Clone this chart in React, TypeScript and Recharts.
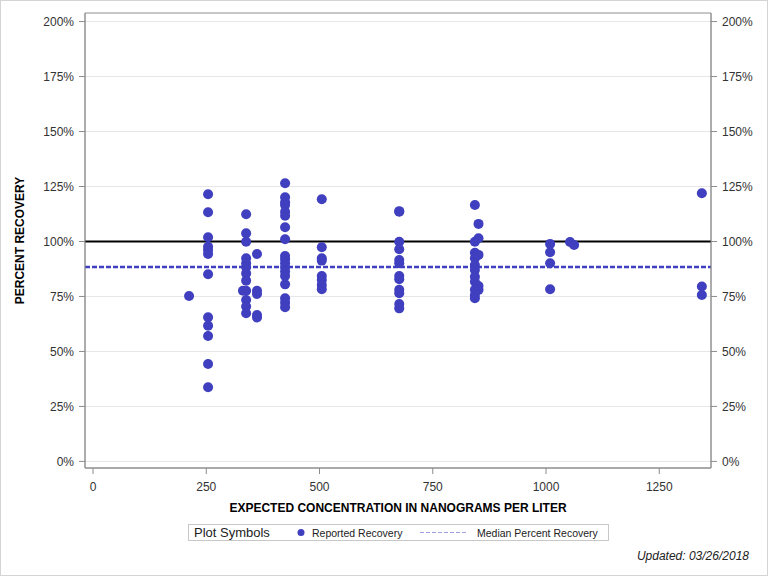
import React from "react";
import {
  CartesianGrid,
  Label,
  ReferenceArea,
  ReferenceLine,
  Scatter,
  ScatterChart,
  XAxis,
  YAxis,
} from "recharts";

// expected concentration (ng/L) for each column of points
const concentrations = [212, 254, 331, 338, 362, 424, 505, 676, 843, 851, 1009, 1053, 1062, 1344];

// reported percent recovery, one list per concentration above
const recoveries = [
  [75.2],
  [121.5, 113.3, 101.9, 97.6, 96.1, 94.3, 85.1, 65.5, 61.7, 57.0, 44.3, 33.7],
  [77.6],
  [112.4, 103.7, 99.9, 92.4, 90.1, 88.3, 85.5, 82.2, 77.6, 73.4, 70.4, 67.4],
  [94.3, 77.6, 76.1, 66.6, 65.4],
  [126.5, 120.1, 117.8, 116.6, 113.5, 111.7, 106.5, 101.0, 93.4, 91.9, 90.1, 88.3, 86.3, 84.3, 80.5, 74.2, 72.2, 70.1],
  [119.2, 97.4, 92.4, 91.3, 84.3, 82.5, 80.2, 78.3],
  [113.5, 113.8, 99.9, 96.5, 91.6, 90.1, 84.3, 82.8, 78.0, 76.5, 71.6, 69.6],
  [116.6, 99.9, 94.9, 92.4, 89.3, 87.0, 84.0, 81.7, 78.0, 75.7, 74.2],
  [108.0, 101.5, 93.9, 79.8, 78.0],
  [98.9, 95.1, 90.1, 78.3],
  [99.8],
  [98.4],
  [121.9, 79.5, 75.7],
];

const xTicks = [0, 250, 500, 750, 1000, 1250];
const yTicks = [0, 25, 50, 75, 100, 125, 150, 175, 200];

const TARGET_RECOVERY = 100;
const MEDIAN_RECOVERY = 88.4;

const X_DOMAIN: [number, number] = [-17.7, 1364.2];
const Y_DOMAIN: [number, number] = [-3, 203.9];

const BLUE = "#3F3FBF";
const FONT = "'Liberation Sans', Arial, sans-serif";

const points = concentrations.flatMap((conc, i) =>
  recoveries[i].map((recovery) => ({ conc, recovery }))
);

const pct = (v: number) => `${v}%`;
const tickStyle = { fill: "#333", fontSize: 12, fontFamily: FONT };

export default function App() {
  return (
    <div
      style={{
        position: "absolute",
        left: 0,
        top: 0,
        width: 768,
        height: 576,
        background: "#fff",
        fontFamily: FONT,
      }}
    >
      <ScatterChart
        width={768}
        height={576}
        margin={{ top: 13, right: 0, bottom: 68, left: 0 }}
      >
        <CartesianGrid yAxisId="left" vertical={false} stroke="#e6e6e6" />
        <XAxis
          type="number"
          dataKey="conc"
          domain={X_DOMAIN}
          ticks={xTicks}
          interval={0}
          allowDataOverflow
          height={40}
          tickSize={6}
          tickMargin={8}
          stroke="#8c8c8c"
          tick={tickStyle}
        >
          <Label
            value="EXPECTED CONCENTRATION IN NANOGRAMS PER LITER"
            position="insideBottom"
            offset={-4}
            style={{ fontWeight: "bold", fontSize: 12, fill: "#000", fontFamily: FONT }}
          />
        </XAxis>
        <YAxis
          yAxisId="left"
          type="number"
          dataKey="recovery"
          domain={Y_DOMAIN}
          ticks={yTicks}
          interval={0}
          allowDataOverflow
          width={85}
          tickSize={6}
          tickMargin={5}
          stroke="#8c8c8c"
          tick={tickStyle}
          tickFormatter={pct}
        >
          <Label
            value="PERCENT RECOVERY"
            angle={-90}
            position="insideLeft"
            offset={20}
            style={{ fontWeight: "bold", fontSize: 12, fill: "#000", fontFamily: FONT, textAnchor: "middle" }}
          />
        </YAxis>
        <YAxis
          yAxisId="right"
          orientation="right"
          type="number"
          domain={Y_DOMAIN}
          ticks={yTicks}
          interval={0}
          allowDataOverflow
          width={57}
          tickSize={6}
          tickMargin={5}
          stroke="#8c8c8c"
          tick={tickStyle}
          tickFormatter={pct}
        />
        <ReferenceArea
          yAxisId="left"
          x1={X_DOMAIN[0]}
          x2={X_DOMAIN[1]}
          y1={Y_DOMAIN[0]}
          y2={Y_DOMAIN[1]}
          fill="none"
          stroke="#9a9a9a"
        />
        <ReferenceLine yAxisId="left" y={TARGET_RECOVERY} stroke="#000" strokeWidth={2} />
        <ReferenceLine
          yAxisId="left"
          y={MEDIAN_RECOVERY}
          stroke={BLUE}
          strokeWidth={2.5}
          strokeDasharray="5 2"
        />
        <Scatter
          yAxisId="left"
          data={points}
          fill={BLUE}
          isAnimationActive={false}
          shape={(p: any) => <circle cx={p.cx} cy={p.cy} r={5} fill={BLUE} />}
        />
      </ScatterChart>

      {/* legend + footnote, drawn on top */}
      <svg
        width={768}
        height={576}
        style={{ position: "absolute", left: 0, top: 0, pointerEvents: "none" }}
        fontFamily={FONT}
      >
        <rect x={188.5} y={524.5} width={420} height={16} fill="#fff" stroke="#c8c8c8" />
        <text x={194} y={537} fontSize={13} fill="#222">Plot Symbols</text>
        <circle cx={301} cy={532.5} r={3.5} fill={BLUE} />
        <text x={312} y={536.5} fontSize={10.5} fill="#222">Reported Recovery</text>
        <line x1={420} x2={466} y1={532.5} y2={532.5} stroke="#a0a0e0" strokeDasharray="4 2" />
        <text x={477} y={536.5} fontSize={10.5} fill="#222">Median Percent Recovery</text>
        <text x={749} y={560} fontSize={12} fontStyle="italic" textAnchor="end" fill="#222">
          Updated: 03/26/2018
        </text>
        <rect x={0.5} y={0.5} width={767} height={575} fill="none" stroke="#d4d4d4" />
      </svg>
    </div>
  );
}
